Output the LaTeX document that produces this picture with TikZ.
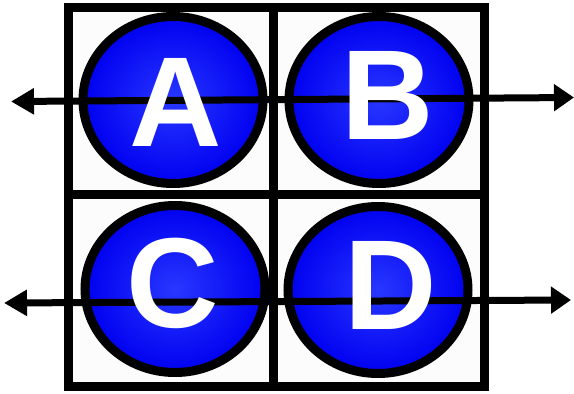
\documentclass[tikz,border=0pt]{standalone}
\usepackage{fontspec}
\setmainfont{Liberation Sans}
\usetikzlibrary{shapes.geometric,arrows.meta}
\definecolor{ballin}{RGB}{40,55,255}
\definecolor{ballout}{RGB}{0,0,240}
\definecolor{cellbg}{RGB}{252,252,252}
\begin{document}
\begin{tikzpicture}[x=1pt,y=-1pt,
  cell/.style={draw=black,line width=9pt,fill=cellbg,line join=miter},
  ball/.style={ellipse,draw=black,line width=9pt,inner sep=0pt,
    minimum width=180pt,minimum height=167pt,
    shading=radial,inner color=ballin,outer color=ballout},
  letter/.style={text=white,font=\fontsize{128}{128}\selectfont\bfseries,inner sep=0pt},
  axis/.style={line width=7pt,{Triangle[length=23pt,width=25pt]}-{Triangle[length=20pt,width=26pt]}}
]
\useasboundingbox (0,0) rectangle (574,394);
% grid
\draw[cell] (68,7.5) rectangle (273,194.5);
\draw[cell] (273,7.5) rectangle (484,194.5);
\draw[cell] (68,194.5) rectangle (273,386.5);
\draw[cell] (273,194.5) rectangle (484,386.5);
% balls
\node[ball] (A) at (173,100) {};
\node[ball] (B) at (379,100) {};
\node[ball] (C) at (175,289) {};
\node[ball] (D) at (378,290) {};
% axes
\coordinate (l1) at (11,101.5);
\coordinate (r1) at (574,97.5);
\coordinate (l2) at (4,303);
\coordinate (r2) at (571,300);
\draw[axis] (l1) -- (r1);
\draw[axis] (l2) -- (r2);
% letters
\node[letter] (tA) at ([xshift=3pt,yshift=-2pt]A.center) {A};
\node[letter] (tB) at ([xshift=9pt,yshift=5pt]B.center) {B};
\node[letter] (tC) at ([xshift=-2pt,yshift=6pt]C.center) {C};
\node[letter] (tD) at ([xshift=13pt,yshift=5pt]D.center) {D};
\end{tikzpicture}
\end{document}
